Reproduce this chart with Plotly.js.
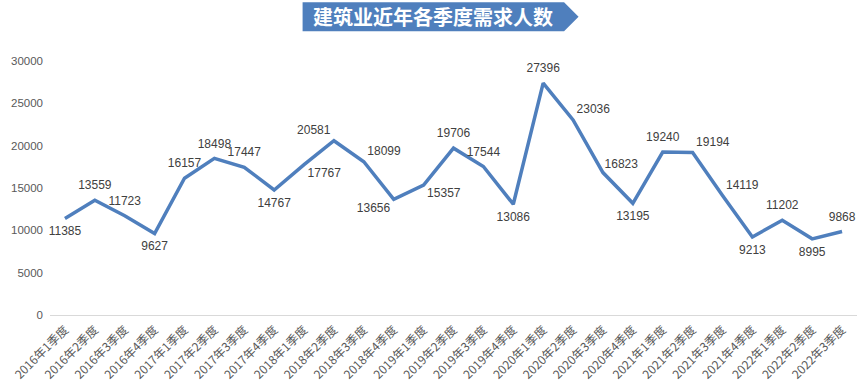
<!DOCTYPE html>
<html>
<head>
<meta charset="utf-8">
<script src="https://cdn.plot.ly/plotly-3.0.1.min.js"></script>
<style>html,body{margin:0;padding:0;background:#fff;}#chart{width:863px;height:390px;}</style>
</head>
<body>
<div id="chart"></div>
<script>
const quarters = ["2016年1季度","2016年2季度","2016年3季度","2016年4季度",
  "2017年1季度","2017年2季度","2017年3季度","2017年4季度",
  "2018年1季度","2018年2季度","2018年3季度","2018年4季度",
  "2019年1季度","2019年2季度","2019年3季度","2019年4季度",
  "2020年1季度","2020年2季度","2020年3季度","2020年4季度",
  "2021年1季度","2021年2季度","2021年3季度","2021年4季度",
  "2022年1季度","2022年2季度","2022年3季度"];
const demand = [11385,13559,11723,9627,16157,18498,17447,14767,17767,20581,18099,13656,
  15357,19706,17544,13086,27396,23036,16823,13195,19240,19194,14119,9213,11202,8995,9868];
const yTicks = [0,5000,10000,15000,20000,25000,30000];
const titleText = "建筑业近年各季度需求人数";

const labelPos = ["bottom center","top center","top center","bottom center","top center","top center","top center","bottom center",
  "bottom right","top left","top right","bottom left","bottom right","top center","top center","bottom center",
  "top center","top right","top right","bottom center","top center","top right","top right","bottom center",
  "top center","bottom center","top center"];
// invisible marker sizes only set the gap between each point and its label
const labelGap = labelPos.map((p, i) => i === 18 ? 1 : (p.endsWith("center") ? 11 : 4));

const trace = {
  x: quarters, y: demand, type: "scatter", mode: "lines+markers+text",
  line: {color: "#4F7FBD", width: 3.5},
  marker: {size: labelGap, color: "rgba(0,0,0,0)", opacity: 0, line: {width: 0, color: "rgba(0,0,0,0)"}},
  text: demand.map(String), textposition: labelPos,
  textfont: {family: "Liberation Sans, Arial, sans-serif", size: 12, color: "#404040"},
  hoverinfo: "x+y", cliponaxis: false
};

// banner geometry in paper coordinates
const bx0 = 0.313, bx1 = 0.637, btip = 0.655, by0 = 1.117, by1 = 1.231, bym = (by0+by1)/2;

const layout = {
  width: 863, height: 390,
  margin: {l: 50, r: 6, t: 61, b: 75},
  paper_bgcolor: "#ffffff", plot_bgcolor: "#ffffff",
  showlegend: false,
  xaxis: {
    type: "category", range: [-0.5, quarters.length - 0.5],
    showline: true, linecolor: "#d9d9d9", linewidth: 1,
    showgrid: false, zeroline: false, ticks: "",
    tickangle: -45, ticklabelstandoff: 2,
    tickfont: {family: "Noto Sans CJK SC, sans-serif", size: 12, color: "#595959"}
  },
  yaxis: {
    range: [0, 30000], tickvals: yTicks, ticktext: yTicks.map(String),
    showgrid: false, zeroline: false, showline: false, ticks: "",
    ticklabelstandoff: 6,
    tickfont: {family: "Liberation Sans, Arial, sans-serif", size: 11.5, color: "#595959"}
  },
  shapes: [{
    type: "path", xref: "paper", yref: "paper",
    path: `M ${bx0},${by0} L ${bx1},${by0} L ${btip},${bym} L ${bx1},${by1} L ${bx0},${by1} Z`,
    fillcolor: "#4F7FBD", line: {width: 0}
  }],
  annotations: [{
    xref: "paper", yref: "paper", x: (bx0 + bx1) / 2, y: bym,
    xanchor: "center", yanchor: "middle", showarrow: false,
    text: "<b>" + titleText + "</b>",
    font: {family: "Noto Sans CJK SC, sans-serif", size: 20, color: "#ffffff"}
  }]
};

Plotly.newPlot("chart", [trace], layout, {displayModeBar: false, staticPlot: true});
</script>
</body>
</html>
